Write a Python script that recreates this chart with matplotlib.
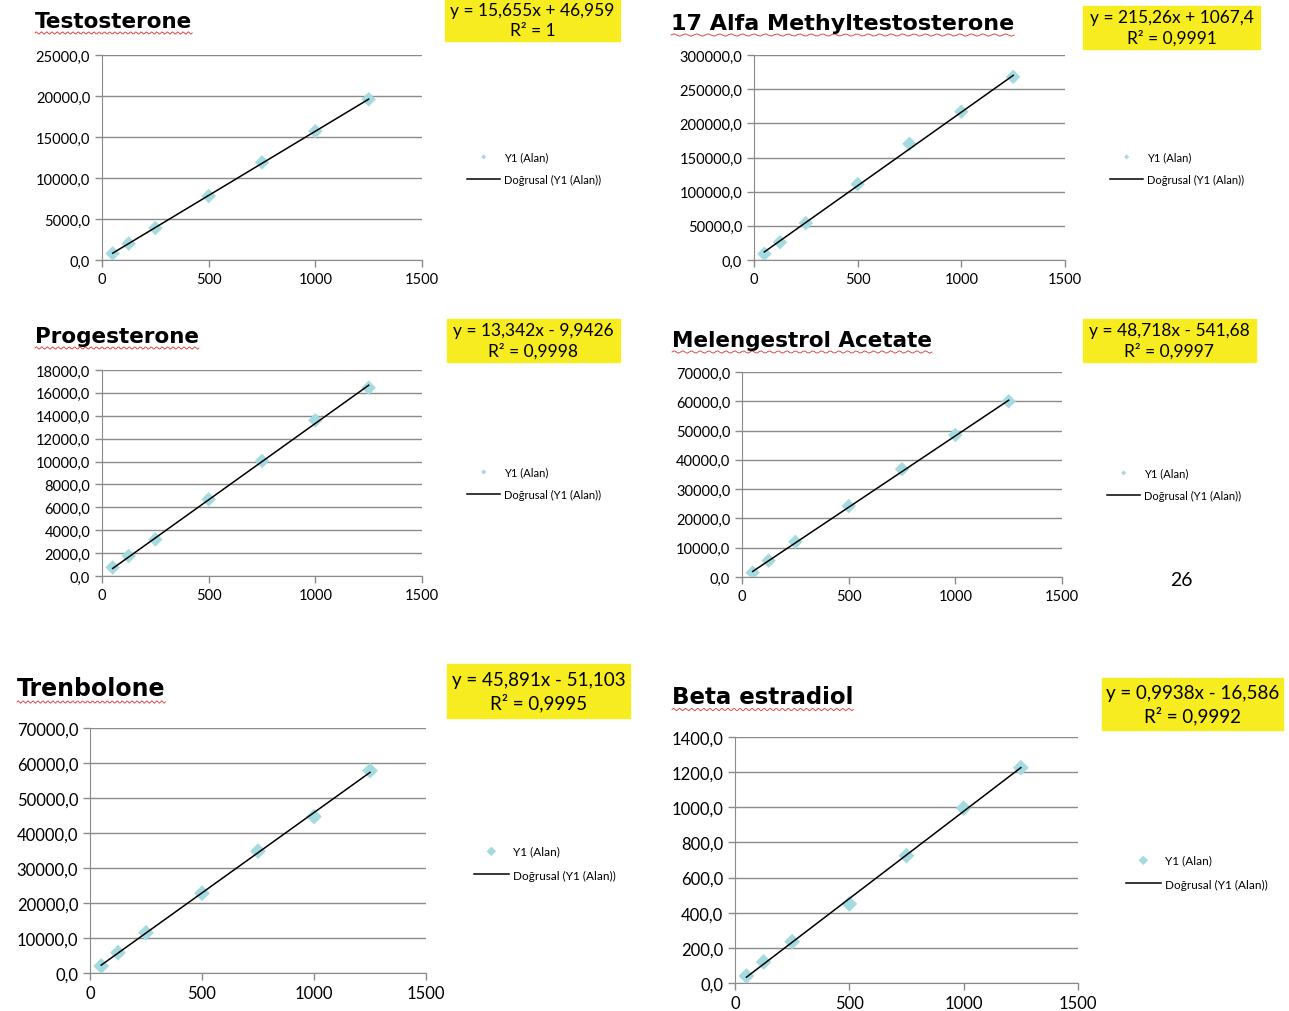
import matplotlib
matplotlib.use("Agg")
import matplotlib.pyplot as plt
from matplotlib.ticker import FuncFormatter, MultipleLocator
import numpy as np

W, H = 1289, 1012

# concentrations (x) shared by all compounds
conc = [50, 125, 250, 500, 750, 1000, 1250]

names = ["Testosterone", "17 Alfa Methyltestosterone", "Progesterone",
         "Melengestrol Acetate", "Trenbolone", "Beta estradiol"]

testosterone = [800, 2000, 3900, 7800, 11900, 15700, 19600]
methyltestosterone = [9000, 26000, 54000, 111000, 170000, 217000, 268000]
progesterone = [750, 1750, 3200, 6700, 10050, 13600, 16450]
melengestrol = [1500, 5600, 12000, 24200, 36800, 48500, 60000]
trenbolone = [2000, 5800, 11500, 22800, 34800, 44700, 57800]
estradiol = [40, 120, 235, 450, 725, 995, 1225]
series = [testosterone, methyltestosterone, progesterone,
          melengestrol, trenbolone, estradiol]

# trendline coefficients as printed on the chart
slopes = [15.655, 215.26, 13.342, 48.718, 45.891, 0.9938]
intercepts = [46.959, 1067.4, -9.9426, -541.68, -51.103, -16.586]
equations = ["y = 15,655x + 46,959\nR² = 1",
             "y = 215,26x + 1067,4\nR² = 0,9991",
             "y = 13,342x - 9,9426\nR² = 0,9998",
             "y = 48,718x - 541,68\nR² = 0,9997",
             "y = 45,891x - 51,103\nR² = 0,9995",
             "y = 0,9938x - 16,586\nR² = 0,9992"]
ymax = [25000, 300000, 18000, 70000, 70000, 1400]
ystep = [5000, 50000, 2000, 10000, 10000, 200]

# layout in pixels: axes box (l, t, r, b), title pos, yellow box (l, t, r, b), legend pos
axes_px = [(102, 56, 422, 261), (754, 56, 1065, 261), (102, 371, 422, 577),
           (742, 373, 1062, 578), (90, 729, 426, 974), (735, 738, 1078, 984)]
title_px = [(35, 22), (671, 24), (35, 337), (672, 341), (17, 689), (672, 697)]
title_size = [15.5, 16, 15.5, 15.5, 17, 16.5]
ybox_px = [(445, 0, 620, 42), (1083, 7, 1260, 50), (447, 320, 620, 363),
           (1083, 320, 1256, 363), (447, 665, 630, 719), (1102, 679, 1283, 731)]
legend_px = [(457, 169), (1100, 169), (457, 484), (1097, 485), (463, 864), (1115, 873)]
small = [True, True, True, True, False, False]

LABEL_FONT = "Lato"
fig = plt.figure(figsize=(W / 100, H / 100), dpi=100)
fig.patch.set_facecolor("white")

def fx(x):
    return x / W

def fy(y):
    return 1 - y / H

comma = FuncFormatter(lambda v, p: f"{v:.1f}".replace(".", ","))

for i in range(6):
    l, t, r, b = axes_px[i]
    ax = fig.add_axes([fx(l), fy(b), fx(r - l), (b - t) / H])
    fs = 10.5 if small[i] else 12
    ax.scatter(conc, series[i], marker="D", s=55 if small[i] else 65,
               color="#a4dbe0", edgecolors="none", zorder=3, label="Y1 (Alan)")
    xx = np.array([conc[0], conc[-1]])
    ax.plot(xx, slopes[i] * xx + intercepts[i], color="black", lw=1.1, zorder=4,
            label="Doğrusal (Y1 (Alan))")
    ax.set_xlim(0, 1500)
    ax.set_ylim(0, ymax[i])
    ax.xaxis.set_major_locator(MultipleLocator(500))
    ax.yaxis.set_major_locator(MultipleLocator(ystep[i]))
    ax.yaxis.set_major_formatter(comma)
    ax.grid(axis="y", color="#8a8a8a", lw=1.0)
    ax.set_axisbelow(True)
    for s in ["top", "right"]:
        ax.spines[s].set_visible(False)
    for s in ["left", "bottom"]:
        ax.spines[s].set_color("#8a8a8a")
    ax.tick_params(colors="#8a8a8a", length=5, width=1, labelcolor="black",
                   labelsize=fs)
    for lab in ax.get_xticklabels() + ax.get_yticklabels():
        lab.set_fontfamily(LABEL_FONT)

    # title with spell-check squiggle
    tx, ty = title_px[i]
    ttl = fig.text(fx(tx), fy(ty), names[i], fontsize=title_size[i],
                   fontweight="bold", family="DejaVu Sans", va="center", ha="left")
    fig.canvas.draw()
    bb = ttl.get_window_extent()
    wx = np.linspace(bb.x0 / W, bb.x1 / W, 120)
    wy = (bb.y0 - 2) / H + 0.0012 * np.sin(np.linspace(0, 120 * np.pi / 2, 120))
    fig.add_artist(plt.Line2D(wx, wy, color="#e03030", lw=0.6))

    # yellow equation box
    bl, bt, br, bbm = ybox_px[i]
    fig.add_artist(plt.Rectangle((fx(bl), fy(bbm)), fx(br - bl), (bbm - bt) / H,
                                 color="#f7ec1f", zorder=0))
    fig.text(fx((bl + br) / 2), fy((bt + bbm) / 2), equations[i],
             ha="center", va="center", fontsize=12.5 if small[i] else 13.5,
             family=LABEL_FONT, linespacing=1.3)

    # legend
    lx, ly = legend_px[i]
    lsize = 8 if small[i] else 8.5
    ax.legend(loc="center left", bbox_to_anchor=(fx(lx), fy(ly)),
              bbox_transform=fig.transFigure, frameon=False,
              markerscale=0.35 if small[i] else 0.6,
              handlelength=3.0, labelspacing=1.1, handletextpad=0.3,
              prop={"family": LABEL_FONT, "size": lsize})

fig.text(fx(1181), fy(580), "26", fontsize=14, family=LABEL_FONT,
         ha="center", va="center")

fig.savefig("out.png", dpi=100)
